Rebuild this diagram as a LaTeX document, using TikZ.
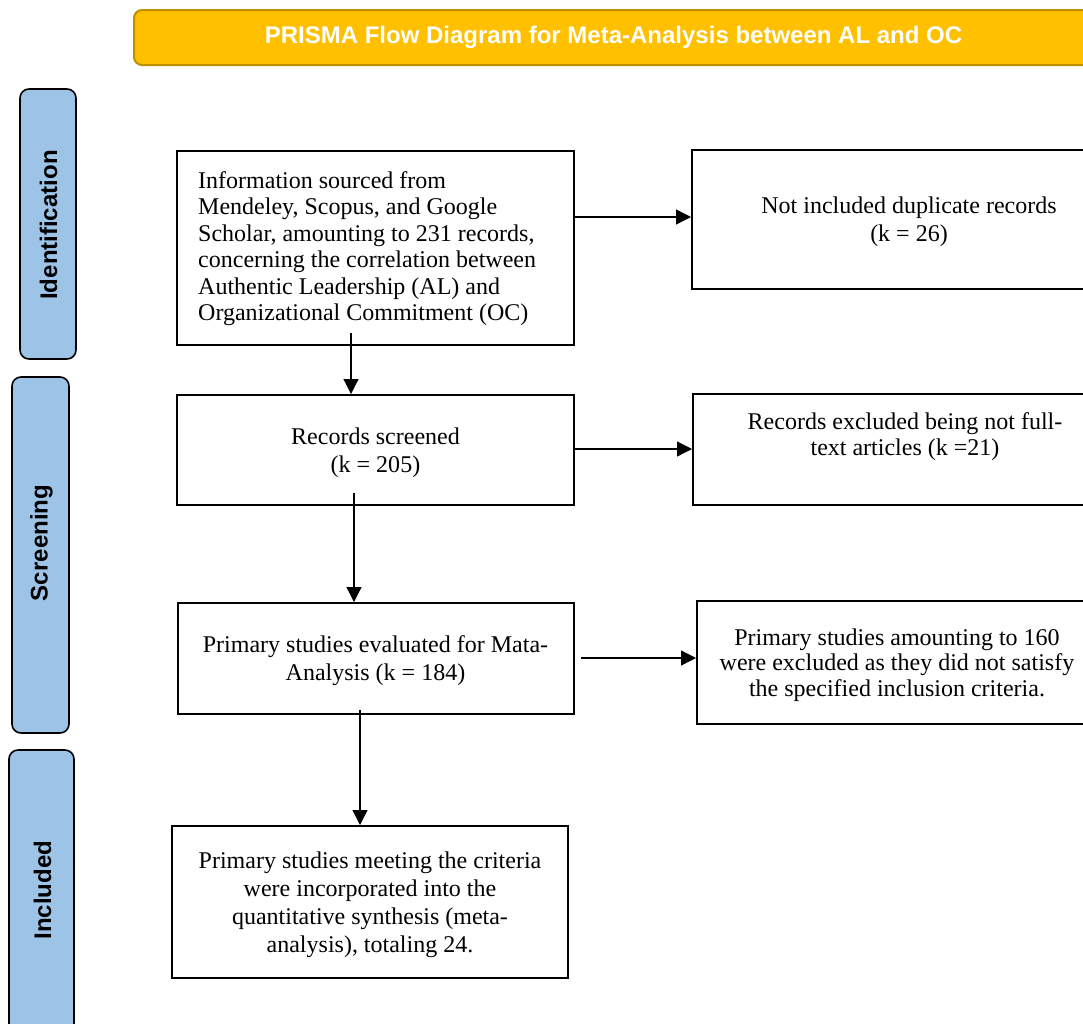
\documentclass[tikz,border=0pt]{standalone}
\usepackage{fontspec}
\setmainfont{Liberation Serif}
\newfontfamily\lsans{Liberation Sans}
\usetikzlibrary{arrows.meta,calc,fit}
\definecolor{titlefill}{HTML}{FFC000}
\definecolor{titleline}{HTML}{BF9000}
\definecolor{phasefill}{HTML}{9DC3E6}
\begin{document}
\begin{tikzpicture}[x=1pt,y=-1pt,
  box/.style={draw, line width=2pt, rectangle, inner sep=0pt},
  phase/.style={draw, line width=1.6pt, fill=phasefill, rounded corners=9pt, inner sep=0pt},
  bodytext/.style={font=\fontsize{24}{28}\selectfont, align=center, inner sep=0pt},
  phasetext/.style={font=\lsans\bfseries\fontsize{24}{28}\selectfont, rotate=90, inner sep=0pt},
  titletext/.style={font=\lsans\bfseries\fontsize{24}{28}\selectfont, text=white, inner sep=0pt},
  arr/.style={line width=1.2pt, -{Triangle[length=15pt,width=15pt]}}]
\useasboundingbox (0,0) rectangle (1083,1023);
\clip (0,0) rectangle (1083,1023);
% title
\node[draw=titleline, fill=titlefill, line width=2pt, rounded corners=8pt, inner sep=0pt, fit={(134,10) (1092,65)}] (title) {};
\node[titletext] (titlelabel) at (613.5,37.5) {PRISMA Flow Diagram for Meta-Analysis between AL and OC};
% phases
\node[phase, fit={(20,89) (76,359)}] (pid) {};
\node[phasetext] (pidt) at (48.5,225) {Identification};
\node[phase, fit={(12,377) (69,733)}] (pscr) {};
\node[phasetext] (pscrt) at (41.5,543) {Screening};
\node[phase, fit={(9,750) (74,1040)}] (pinc) {};
\node[phasetext] (pinct) at (42.5,890) {Included};
% boxes
\node[box, fit={(177,151) (574,345)}] (b1) {};
\node[bodytext, align=left, anchor=north west, font=\fontsize{24}{26.5}\selectfont] (t1) at (198,171) {Information sourced from\\Mendeley, Scopus, and Google\\Scholar, amounting to 231 records,\\concerning the correlation between\\Authentic Leadership (AL) and\\Organizational Commitment (OC)};
\node[box, fit={(692,150) (1126,289)}] (b2) {};
\node[bodytext] (t2) at (909,222) {Not included duplicate records\\(k = 26)};
\node[box, fit={(177,395) (574,505)}] (b3) {};
\node[bodytext] (t3) at (375.5,453) {Records screened\\(k = 205)};
\node[box, fit={(693,394) (1130,505)}] (b4) {};
\node[bodytext, font=\fontsize{24}{26}\selectfont] (t4) at (905,437) {Records excluded being not full-\\text articles (k =21)};
\node[box, fit={(178,603) (574,714)}] (b5) {};
\node[bodytext] (t5) at (375.5,661) {Primary studies evaluated for Mata-\\Analysis (k = 184)};
\node[box, fit={(697,601) (1110,724)}] (b6) {};
\node[bodytext, font=\fontsize{24}{25.5}\selectfont] (t6) at (897,665) {Primary studies amounting to 160\\were excluded as they did not satisfy\\the specified inclusion criteria.};
\node[box, fit={(172,826) (568,978)}] (b7) {};
\node[bodytext] (t7) at (370,905) {Primary studies meeting the criteria\\were incorporated into the\\quantitative synthesis (meta-\\analysis), totaling 24.};
% connectors
\draw[arr] (b1.east |- 0,217) -- (b2.west |- 0,217);
\draw[arr] (351,333) -- (b3.north -| 351,0);
\draw[arr] (b3.east |- 0,449) -- (b4.west |- 0,449);
\draw[arr] (354,493) -- (b5.north -| 354,0);
\draw[arr] ([xshift=6pt]b5.east |- 0,658) -- (b6.west |- 0,658);
\draw[arr] (360,710) -- (b7.north -| 360,0);
\end{tikzpicture}
\end{document}
